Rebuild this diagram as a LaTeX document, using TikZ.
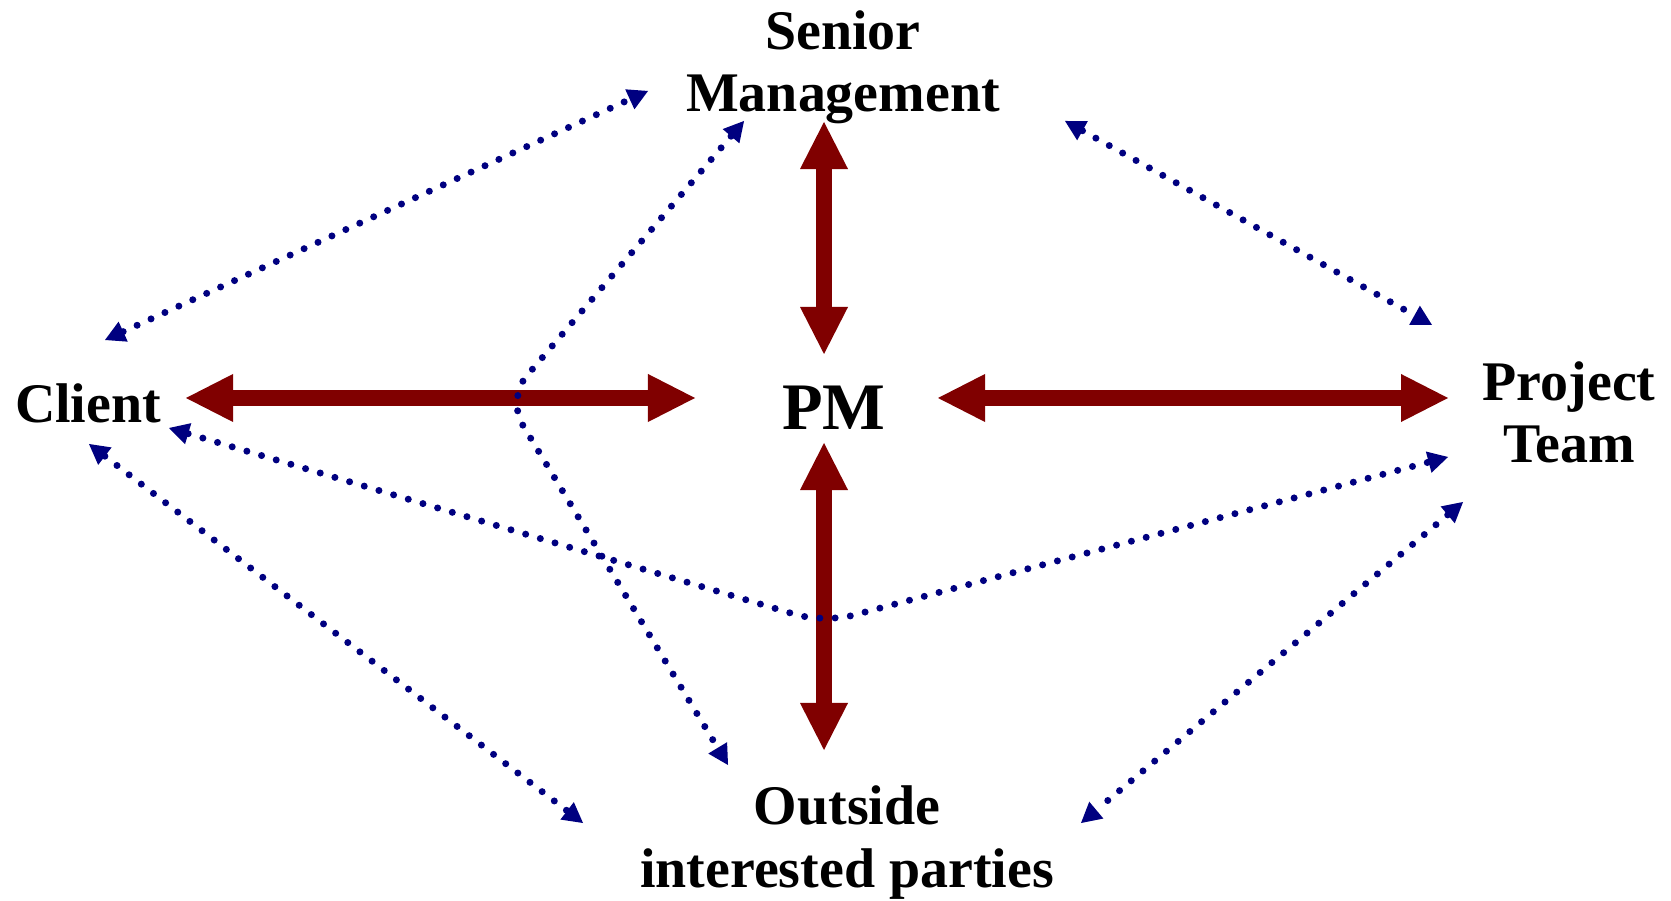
\documentclass[tikz,border=0pt]{standalone}
\usepackage{fontspec}
\setmainfont{Liberation Serif}
\usetikzlibrary{arrows.meta}
\definecolor{pmred}{HTML}{800000}
\definecolor{pmblue}{HTML}{000080}
\tikzset{
  bigtip/.tip={Triangle[length=0.47cm, width=0.48cm, line width=0pt]},
  smalltip/.tip={Triangle[length=0.2cm, width=0.22cm, line width=0pt]},
}

\begin{document}
\begin{tikzpicture}[x=0.01cm, y=-0.01cm,
    lbl/.style={align=center, anchor=base, inner sep=0pt,
      font=\fontsize{15.9}{17.9}\selectfont\bfseries},
    hub/.style={lbl, font=\fontsize{18.9}{21}\selectfont\bfseries},
    main/.style={draw=pmred, line width=0.16cm, bigtip-bigtip},
    side/.style={draw=pmblue, line width=0.07cm, line cap=round,
      dash pattern=on 0pt off 0.153cm, rounded corners=0.3cm, smalltip-smalltip},
  ]
    \useasboundingbox (0,0) rectangle (1671,901);

    % base is the last line of each label
    \node[lbl] (sm)      at (843,112)  {Senior\\Management};
    \node[lbl] (client)  at (88,423)   {Client};
    \node[hub] (pm)      at (834,430)  {PM};
    \node[lbl] (team)    at (1569,463) {Project\\Team};
    \node[lbl] (outside) at (847,887)  {Outside\\interested parties};

    % ends of the thick arrows
    \coordinate (cl-r)  at (186,398);
    \coordinate (pm-l)  at (695,398);
    \coordinate (pm-r)  at (938,398);
    \coordinate (tm-l)  at (1448,398);
    \coordinate (sm-s)  at (824,122);
    \coordinate (pm-n)  at (824,354);
    \coordinate (pm-s)  at (824,443);
    \coordinate (out-n) at (824,750);

    % ends of the dotted arrows
    \coordinate (cl-a)  at (105,340);
    \coordinate (cl-b)  at (169,428);
    \coordinate (cl-c)  at (89,444);
    \coordinate (sm-a)  at (648,91);
    \coordinate (sm-b)  at (744,121);
    \coordinate (sm-c)  at (1065,121);
    \coordinate (tm-a)  at (1432,325);
    \coordinate (tm-b)  at (1448,457);
    \coordinate (tm-c)  at (1463,502);
    \coordinate (out-a) at (583,823);
    \coordinate (out-b) at (728,765);
    \coordinate (out-c) at (1081,823);
    \coordinate (bend1) at (507,399);
    \coordinate (bend2) at (824,623);

    \foreach \a/\b in {cl-r/pm-l, pm-r/tm-l, sm-s/pm-n, pm-s/out-n} {
      \draw[main] (\a) -- (\b);
    }
    \foreach \a/\b in {cl-a/sm-a, sm-c/tm-a, cl-c/out-a, tm-c/out-c} {
      \draw[side] (\a) -- (\b);
    }
    \draw[side] (sm-b) -- (bend1) -- (out-b);
    \draw[side] (cl-b) -- (bend2) -- (tm-b);
  \end{tikzpicture}
\end{document}
